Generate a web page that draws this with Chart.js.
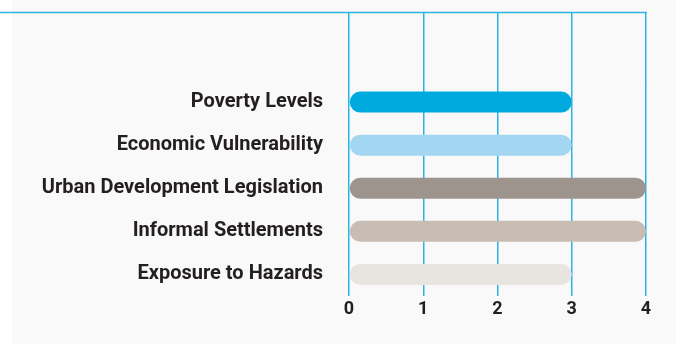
<!DOCTYPE html>
<html>
<head>
<meta charset="utf-8">
<script src="https://cdn.jsdelivr.net/npm/chart.js@4"></script>
<style>
  html, body { margin: 0; padding: 0; background: #ffffff; }
  #wrap {
    width: 676px; height: 344px;
    background: linear-gradient(to right, #ffffff 12px, #f9f9f9 12px);
  }
  canvas { display: block; }
</style>
</head>
<body>
<div id="wrap"><canvas id="chart" width="676" height="344"></canvas></div>
<script>
// Risk factors and their scores
const categories = [
  'Poverty Levels',
  'Economic Vulnerability',
  'Urban Development Legislation',
  'Informal Settlements',
  'Exposure to Hazards'
];
const scores = [3, 3, 4, 4, 3];
const barColors = ['#00aade', '#a3d6f1', '#9e948e', '#c8bcb3', '#e8e4e0'];
const tickValues = [0, 1, 2, 3, 4];

const GRID = '#2ab4e4';
const TEXT = '#231f20';

// Rule across the top of the plot, running out to the left edge
const topRule = {
  id: 'topRule',
  afterDraw(chart) {
    const top = chart.scales.x2;
    const x = chart.scales.x;
    const ctx = chart.ctx;
    const y = Math.round(top.top) + 0.5;
    ctx.save();
    ctx.strokeStyle = GRID;
    ctx.lineWidth = 1.5;
    ctx.beginPath();
    ctx.moveTo(0, y);
    ctx.lineTo(x.getPixelForValue(tickValues[tickValues.length - 1]) + 0.75, y);
    ctx.stroke();
    ctx.restore();
  }
};

new Chart(document.getElementById('chart'), {
  type: 'bar',
  data: {
    labels: categories,
    datasets: [{
      data: scores,
      backgroundColor: barColors,
      borderWidth: 0,
      borderRadius: 11,
      borderSkipped: false,
      barThickness: 21,
      inflateAmount: 0,
      xAxisID: 'x'
    }]
  },
  options: {
    indexAxis: 'y',
    responsive: false,
    devicePixelRatio: 1,
    animation: false,
    layout: { padding: { left: 12, right: 30, top: 12, bottom: 20 } },
    plugins: { legend: { display: false }, tooltip: { enabled: false } },
    scales: {
      x: {
        type: 'linear',
        position: 'bottom',
        min: tickValues[0],
        max: tickValues[tickValues.length - 1],
        afterBuildTicks(scale) { scale.ticks = tickValues.map(v => ({ value: v })); },
        afterFit(scale) { scale.height = 28; },
        grid: { color: GRID, lineWidth: 1.5, drawTicks: false },
        border: { display: false },
        ticks: {
          padding: 3,
          color: TEXT,
          font: { family: 'Roboto', weight: 'bold', size: 18 }
        }
      },
      x2: {
        type: 'linear',
        position: 'top',
        min: tickValues[0],
        max: tickValues[tickValues.length - 1],
        afterBuildTicks(scale) { scale.ticks = tickValues.map(v => ({ value: v })); },
        grid: { color: GRID, lineWidth: 1.5, drawOnChartArea: false, drawTicks: true, tickLength: 68.5 },
        border: { display: false },
        ticks: { display: false }
      },
      y: {
        type: 'category',
        afterFit(scale) { scale.width = 337; },
        grid: { display: false, drawTicks: false },
        border: { display: false },
        ticks: {
          padding: 26,
          color: TEXT,
          font: { family: 'Roboto', weight: 'bold', size: 20 }
        }
      }
    }
  },
  plugins: [topRule]
});
</script>
</body>
</html>
